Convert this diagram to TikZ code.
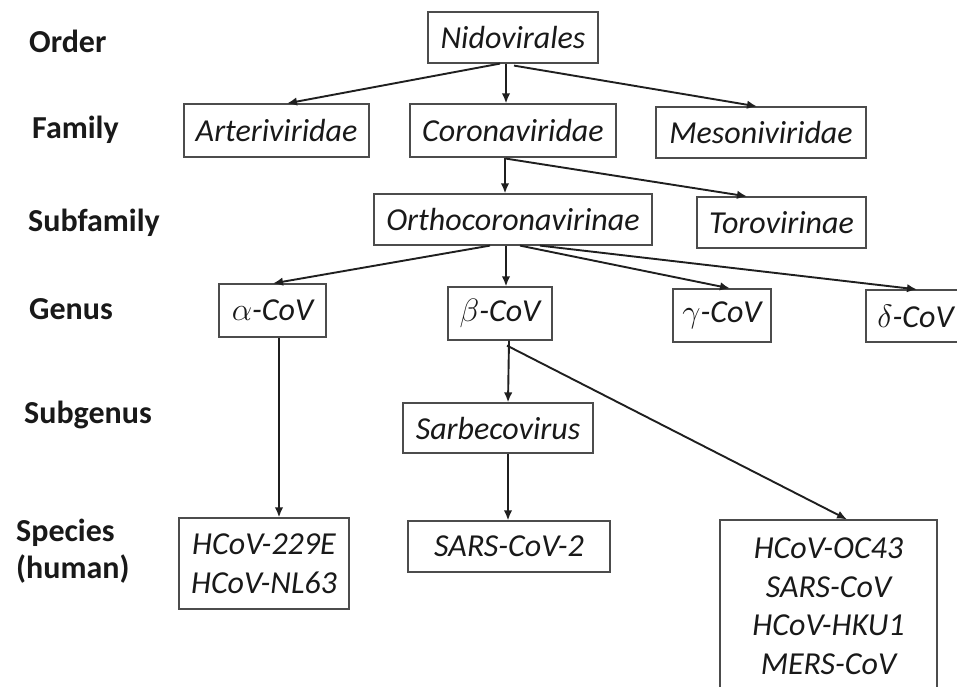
\documentclass[tikz,border=0pt]{standalone}
\usepackage{fontspec}
\setmainfont{Carlito}
\usetikzlibrary{arrows.meta}
\newcommand{\grk}[1]{\scalebox{1.3}{$#1$}}
\begin{document}
\begin{tikzpicture}[x=1pt,y=-1pt,
  taxbox/.style={draw=black!70, line width=1.2pt, inner sep=0pt, align=center,
    font=\fontsize{32}{38.5}\selectfont\itshape, text=black!90},
  ranklabel/.style={anchor=base west, inner sep=0pt, align=left,
    font=\fontsize{32}{37}\selectfont\bfseries, text=black!90},
  arr/.style={line width=1.9pt, black!88, -{Latex[length=10pt,width=8.5pt]}}]
\useasboundingbox (0,0) rectangle (957,686);
\clip (0,0) rectangle (957,686);
% rank labels
\node[ranklabel] (lorder) at (29,52) {Order};
\node[ranklabel] (lfamily) at (32,138) {Family};
\node[ranklabel] (lsubfam) at (28,231) {Subfamily};
\node[ranklabel] (lgenus) at (29,319) {Genus};
\node[ranklabel] (lsubgen) at (24,423) {Subgenus};
\node[ranklabel] (lspecies) at (16,541) {Species};
\node[ranklabel] (lhuman) at (16,578) {(human)};
% taxa
\node[taxbox, minimum width=170pt, minimum height=51pt] (nid) at (513,37.5) {Nidovirales};
\node[taxbox, minimum width=185pt, minimum height=53pt] (art) at (276.5,130.5) {Arteriviridae};
\node[taxbox, minimum width=206pt, minimum height=53pt] (cor) at (513,130.5) {Coronaviridae};
\node[taxbox, minimum width=210pt, minimum height=51pt] (mes) at (761,132.5) {Mesoniviridae};
\node[taxbox, minimum width=278pt, minimum height=51pt] (ort) at (513,219.5) {Orthocoronavirinae};
\node[taxbox, minimum width=169pt, minimum height=51pt] (tor) at (781.5,222.5) {Torovirinae};
\node[taxbox, minimum width=107pt, minimum height=53pt] (alp) at (272.5,310.5) {\grk{\alpha}-CoV};
\node[taxbox, minimum width=104pt, minimum height=53pt] (bet) at (500,313.5) {\grk{\beta}-CoV};
\node[taxbox, minimum width=98pt, minimum height=53pt] (gam) at (722,315.5) {\grk{\gamma}-CoV};
\node[taxbox, minimum width=110pt, minimum height=52pt] (del) at (921,316) {\hspace*{-11pt}\grk{\delta}-CoV};
\node[taxbox, minimum width=190pt, minimum height=50pt] (sar) at (498,428) {Sarbecovirus};
\node[taxbox, minimum width=170pt, minimum height=91pt] (h229) at (264,563.5) {HCoV-229E\\HCoV-NL63};
\node[taxbox, minimum width=202pt, minimum height=51pt] (sars2) at (509,546.5) {SARS-CoV-2};
\node[taxbox, minimum width=217pt, minimum height=172pt] (oc) at (828.5,606) {HCoV-OC43\\SARS-CoV\\HCoV-HKU1\\MERS-CoV};
% connectors
\draw[arr] ([xshift=-13pt]nid.south) -- ([xshift=10.5pt]art.north);
\draw[arr] ([xshift=-7pt]nid.south) -- ([xshift=-7pt]cor.north);
\draw[arr] ([xshift=1pt,yshift=-2pt]nid.south) -- ([xshift=-4pt]mes.north);
\draw[arr] ([xshift=-8pt]cor.south) -- ([xshift=-8pt]ort.north);
\draw[arr] ([xshift=-7pt,yshift=-1pt]cor.south) -- ([xshift=-34.5pt]tor.north);
\draw[arr] ([xshift=-23pt]ort.south) -- ([xshift=0.5pt]alp.north);
\draw[arr] ([xshift=-7pt]ort.south) -- ([xshift=6pt]bet.north);
\draw[arr] ([xshift=7pt]ort.south) -- ([xshift=8pt]gam.north);
\draw[arr] ([xshift=27pt]ort.south) -- ([xshift=-4pt]del.north);
\draw[arr] ([xshift=6.5pt]alp.south) -- ([xshift=15pt]h229.north);
\draw[arr] ([xshift=9pt]bet.south) -- ([xshift=10pt]sar.north);
\draw[arr] ([xshift=7pt,yshift=-5pt]bet.south) -- ([xshift=18.5pt]oc.north);
\draw[arr] ([xshift=10pt]sar.south) -- ([xshift=-1pt]sars2.north);
\end{tikzpicture}
\end{document}
